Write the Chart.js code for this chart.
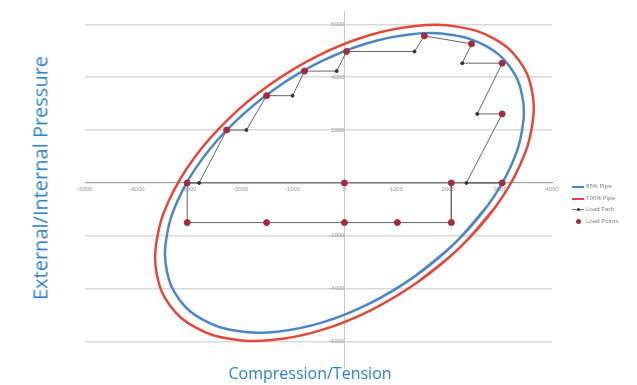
<!DOCTYPE html>
<html>
<head>
<meta charset="utf-8">
<script src="https://cdn.jsdelivr.net/npm/chart.js@4.4.1/dist/chart.umd.min.js"></script>
<style>
  body { margin: 0; background: #fff; font-family: "Open Sans", sans-serif; }
  #wrap { position: relative; width: 637px; height: 385px; }
  .axis-title { position: absolute; color: #2a84c6; font-size: 16px; white-space: nowrap; }
  #ytitle { left: 40px; top: 178px; font-size: 20px; transform: translate(-50%, -50%) rotate(-90deg); }
  #xtitle { left: 310px; top: 373px; transform: translate(-50%, -50%); }
  #legend { position: absolute; left: 572px; top: 181px; font-size: 6px; color: #777; }
  #legend .row { height: 11.5px; line-height: 11.5px; white-space: nowrap; }
  #legend .key { display: inline-block; position: relative; width: 12px; height: 11.5px; margin-right: 2px; vertical-align: top; }
  #legend .key i { position: absolute; left: 0; right: 0; top: 5px; }
  #legend .key b { position: absolute; border-radius: 50%; }
</style>
</head>
<body>
<div id="wrap">
  <canvas id="chart"></canvas>
  <div class="axis-title" id="ytitle">External/Internal Pressure</div>
  <div class="axis-title" id="xtitle">Compression/Tension</div>
  <div id="legend">
    <div class="row"><span class="key"><i style="border-top:2px solid #4a86c8"></i></span>95% Pipe</div>
    <div class="row"><span class="key"><i style="border-top:2px solid #e5483a"></i></span>100% Pipe</div>
    <div class="row"><span class="key"><i style="border-top:1px solid #777"></i><b style="left:4.5px;top:4px;width:3px;height:3px;background:#333"></b></span>Load Path</div>
    <div class="row"><span class="key"><b style="left:3.5px;top:3px;width:5px;height:5px;background:#a52a3c"></b></span>Load Points</div>
  </div>
</div>
<script>
// tick labels
const xTickValues = [-5000, -4000, -3000, -2000, -1000, 0, 1000, 2000, 3000, 4000];
const yTickValues = [-6000, -4000, -2000, 0, 2000, 4000, 6000];

// [compression/tension, pressure], going round each ellipse
// (the loop overlaps by one point at each end so the closing joint stays smooth)
const pipe95 = [
  [1348, -3544], [2125, -2281], [2758, -862], [3202, 615], [3428, 2050], [3421, 3346], [3180, 4414],
  [2723, 5181], [2080, 5594], [1296, 5627], [423, 5276], [-479, 4565], [-1348, 3544],
  [-2125, 2281], [-2758, 862], [-3202, -615], [-3428, -2050], [-3421, -3346], [-3180, -4414],
  [-2723, -5181], [-2080, -5594], [-1296, -5627], [-423, -5276], [479, -4565], [1348, -3544],
  [2125, -2281], [2758, -862]
];
const pipe100 = [
  [1422, -3739], [2242, -2406], [2910, -909], [3378, 649], [3617, 2163], [3609, 3530], [3355, 4657],
  [2873, 5466], [2194, 5902], [1367, 5936], [446, 5566], [-505, 4816], [-1422, 3739],
  [-2242, 2406], [-2910, 909], [-3378, -649], [-3617, -2163], [-3609, -3530], [-3355, -4657],
  [-2873, -5466], [-2194, -5902], [-1367, -5936], [-446, -5566], [505, -4816], [1422, -3739],
  [2242, -2406], [2910, -909]
];
const loadPath = [
  [2060, 0], [2060, -1500], [1020, -1500], [0, -1500], [-1500, -1500], [-3030, -1500],
  [-3030, 0], [-2800, 0], [-2270, 2000], [-1890, 2000], [-1500, 3300], [-1000, 3300],
  [-770, 4230], [-150, 4230], [40, 4970], [1350, 4970], [1540, 5560], [2450, 5260],
  [2270, 4530], [3040, 4530], [2560, 2610], [3040, 2610], [2350, 0], [3040, 0],
  [2060, 0], [0, 0], [-3030, 0]
];
const loadPoints = [
  [-3030, 0], [-2270, 2000], [-1500, 3300], [-770, 4230], [40, 4970], [1540, 5560],
  [2450, 5260], [3040, 4530], [3040, 2610], [3040, 0], [2060, 0], [0, 0],
  [-3030, -1500], [-1500, -1500], [0, -1500], [1020, -1500], [2060, -1500]
];

const toXY = (pts) => pts.map((p) => ({ x: p[0], y: p[1] }));

const ctx = document.getElementById("chart").getContext("2d");
new Chart(ctx, {
  type: "scatter",
  data: {
    datasets: [
      {
        label: "95% Pipe",
        data: toXY(pipe95),
        showLine: true,
        borderColor: "#4a86c8",
        borderWidth: 2.5,
        pointRadius: 0,
        tension: 0.4,
        order: 4,
      },
      {
        label: "100% Pipe",
        data: toXY(pipe100),
        showLine: true,
        borderColor: "#e5483a",
        borderWidth: 2.5,
        pointRadius: 0,
        tension: 0.4,
        order: 3,
      },
      {
        label: "Load Path",
        data: toXY(loadPath),
        showLine: true,
        borderColor: "#666",
        borderWidth: 1,
        pointRadius: 1.5,
        pointBackgroundColor: "#333",
        pointBorderColor: "#333",
        tension: 0,
        order: 2,
      },
      {
        label: "Load Points",
        data: toXY(loadPoints),
        showLine: false,
        pointRadius: 3,
        pointBackgroundColor: "#a52a3c",
        pointBorderColor: "#a52a3c",
        order: 1,
      },
    ],
  },
  options: {
    responsive: true,
    maintainAspectRatio: false,
    animation: false,
    layout: { padding: { left: 85, right: 85, top: 2, bottom: 17 } },
    plugins: { legend: { display: false }, tooltip: { enabled: false } },
    scales: {
      x: {
        type: "linear",
        min: -5000,
        max: 4000,
        position: { y: 0 },
        afterBuildTicks: (axis) => {
          axis.ticks = xTickValues.map((v) => ({ value: v }));
        },
        grid: { display: false, drawTicks: false },
        border: { color: "#a0a0a0", width: 1 },
        ticks: { color: "#999", font: { size: 6 }, padding: 3, maxRotation: 0, callback: (v) => v },
      },
      y: {
        type: "linear",
        min: -7000,
        max: 6480,
        position: { x: 0 },
        afterBuildTicks: (axis) => {
          axis.ticks = yTickValues.map((v) => ({ value: v }));
        },
        grid: { color: "#dadada", lineWidth: 1.5, drawTicks: false },
        border: { color: "#c8c8c8", width: 1 },
        ticks: { color: "#999", font: { size: 6 }, padding: 8, callback: (v) => v },
      },
    },
  },
});
</script>
</body>
</html>
